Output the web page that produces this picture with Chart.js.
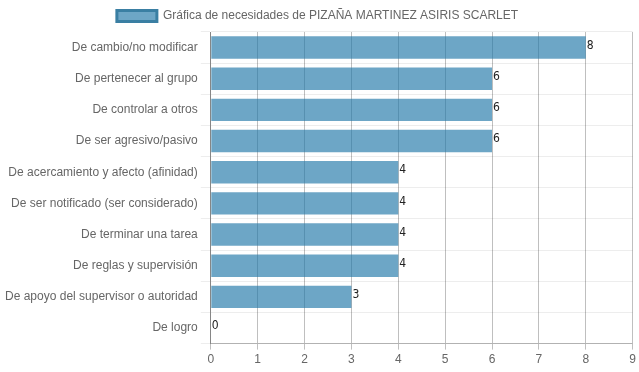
<!DOCTYPE html>
<html>
<head>
<meta charset="utf-8">
<script src="https://cdn.jsdelivr.net/npm/chart.js@4/dist/chart.umd.min.js"></script>
<style>
  html, body { margin: 0; padding: 0; background: #fff; }
  #wrap { width: 639px; height: 372px; }
</style>
</head>
<body>
<div id="wrap"><canvas id="chartNeeds"></canvas></div>
<script>
const categories = [
  "De cambio/no modificar",
  "De pertenecer al grupo",
  "De controlar a otros",
  "De ser agresivo/pasivo",
  "De acercamiento y afecto (afinidad)",
  "De ser notificado (ser considerado)",
  "De terminar una tarea",
  "De reglas y supervisión",
  "De apoyo del supervisor o autoridad",
  "De logro"
];
const values = [8, 6, 6, 6, 4, 4, 4, 4, 3, 0];
const xTicks = [0, 1, 2, 3, 4, 5, 6, 7, 8, 9];
const seriesLabel = "Gráfica de necesidades de PIZAÑA MARTINEZ ASIRIS SCARLET";

// etiquetas de valor a la derecha de cada barra
const valueLabels = {
  id: "valueLabels",
  afterDatasetsDraw(chart) {
    const ctx = chart.ctx;
    const meta = chart.getDatasetMeta(0);
    ctx.save();
    ctx.font = "12px 'DejaVu Sans Condensed', 'Liberation Sans', sans-serif";
    ctx.fillStyle = "#222";
    ctx.textAlign = "left";
    ctx.textBaseline = "middle";
    meta.data.forEach((bar, i) => {
      ctx.fillText(String(values[i]), bar.x + 1, bar.y - 2);
    });
    ctx.restore();
  }
};

new Chart(document.getElementById("chartNeeds"), {
  type: "bar",
  data: {
    labels: categories,
    datasets: [{
      label: seriesLabel,
      data: values,
      backgroundColor: "rgba(31, 119, 168, 0.65)",
      borderWidth: 0
    }]
  },
  options: {
    indexAxis: "y",
    responsive: true,
    maintainAspectRatio: false,
    animation: false,
    layout: { padding: { left: 2, right: 6, top: 0, bottom: 2 } },
    plugins: {
      legend: {
        labels: {
          boxWidth: 40,
          boxHeight: 11,
          color: "#666",
          font: { family: "'Liberation Sans', Arial, sans-serif", size: 12 },
          generateLabels(chart) {
            return [{
              text: seriesLabel,
              fillStyle: "rgba(31, 119, 168, 0.65)",
              strokeStyle: "#3a7fa3",
              fontColor: "#666",
              lineWidth: 3,
              datasetIndex: 0
            }];
          }
        }
      },
      tooltip: { enabled: false }
    },
    scales: {
      x: {
        min: 0,
        max: 9,
        afterBuildTicks(axis) {
          axis.ticks = xTicks.map(v => ({ value: v }));
        },
        grid: { color: "rgba(0,0,0,0.25)", tickLength: 6 },
        border: { color: "rgba(0,0,0,0.25)" },
        ticks: {
          color: "#666",
          font: { family: "'Liberation Sans', Arial, sans-serif", size: 12 }
        }
      },
      y: {
        grid: { color: "rgba(0,0,0,0.07)", offset: true, tickLength: 10 },
        border: { color: "rgba(0,0,0,0.3)" },
        ticks: {
          color: "#666",
          font: { family: "'Liberation Sans', Arial, sans-serif", size: 12 }
        }
      }
    }
  },
  plugins: [valueLabels]
});
</script>
</body>
</html>
